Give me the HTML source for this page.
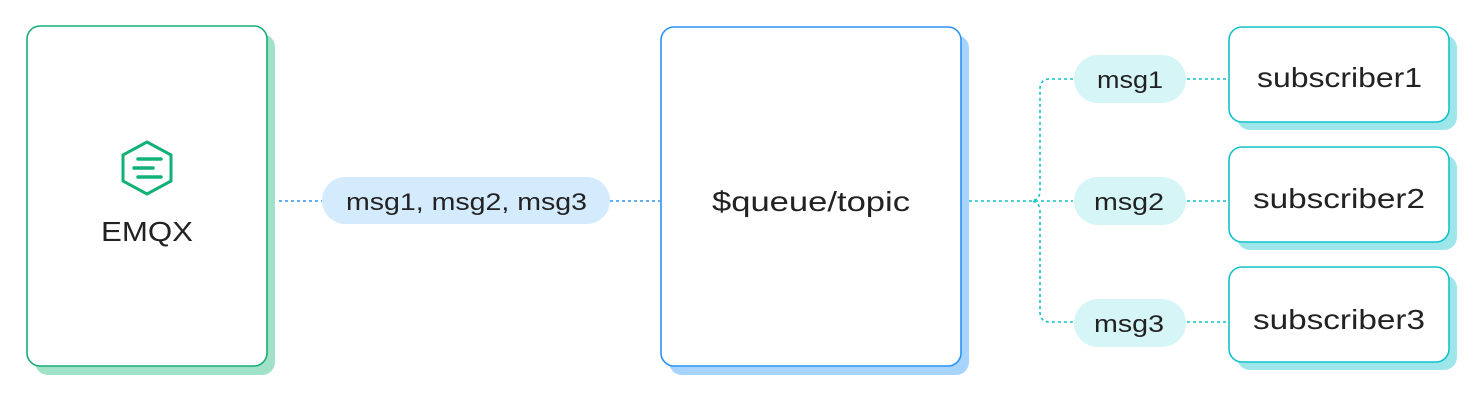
<!DOCTYPE html>
<html><head><meta charset="utf-8"><style>
html,body{margin:0;padding:0;background:#fff;}
svg{display:block;}
text{font-family:"Liberation Sans",sans-serif;fill:#222;}
</style></head><body>
<svg width="1482" height="402" viewBox="0 0 1482 402" xmlns="http://www.w3.org/2000/svg">
<!-- EMQX box -->
<rect x="35" y="34" width="240" height="341" rx="13" fill="#a0e2c8"/>
<rect x="27" y="26" width="240" height="340" rx="13" fill="#fff" stroke="#17ad73" stroke-width="1.6"/>
<polygon points="147,142 171,155 171,181 147,194 123,181 123,155" fill="none" stroke="#12b277" stroke-width="3" stroke-linejoin="round"/>
<line x1="138" y1="159" x2="161" y2="159" stroke="#12b277" stroke-width="3.5" stroke-linecap="round"/>
<line x1="134" y1="168" x2="153" y2="168" stroke="#12b277" stroke-width="3.5" stroke-linecap="round"/>
<line x1="138" y1="177" x2="161" y2="177" stroke="#12b277" stroke-width="3.5" stroke-linecap="round"/>
<text x="101" y="241" font-size="28" textLength="92" lengthAdjust="spacingAndGlyphs">EMQX</text>

<!-- left connector -->
<line x1="279" y1="201" x2="322" y2="201" stroke="#2a94f4" stroke-width="1.6" stroke-dasharray="3,3"/>
<line x1="610" y1="201" x2="660" y2="201" stroke="#2a94f4" stroke-width="1.6" stroke-dasharray="3,3"/>
<rect x="322" y="177" width="288" height="47" rx="23.5" fill="#d4eafd"/>
<text x="346" y="210" font-size="24" textLength="241" lengthAdjust="spacingAndGlyphs">msg1, msg2, msg3</text>

<!-- queue box -->
<rect x="669" y="35" width="300" height="340" rx="13" fill="#a6d4fc"/>
<rect x="661" y="27" width="300" height="339" rx="13" fill="#fff" stroke="#2a94f4" stroke-width="1.6"/>
<text x="712" y="211" font-size="28" textLength="198" lengthAdjust="spacingAndGlyphs">$queue/topic</text>

<!-- right connectors -->
<g stroke="#13c2c9" stroke-width="1.6" stroke-dasharray="3,3" fill="none">
<line x1="969" y1="201" x2="1073" y2="201"/>
<path d="M1073,79 H1050 Q1040,79 1040,89 V191 Q1040,199 1032,201 Q1040,203 1040,211 V312 Q1040,322 1050,322 H1073"/>
<line x1="1187" y1="79" x2="1228" y2="79"/>
<line x1="1187" y1="201" x2="1228" y2="201"/>
<line x1="1187" y1="322" x2="1228" y2="322"/>
</g>
<rect x="1074" y="55" width="112" height="48" rx="24" fill="#d6f5f7"/>
<rect x="1074" y="177" width="112" height="48" rx="24" fill="#d6f5f7"/>
<rect x="1074" y="299" width="112" height="48" rx="24" fill="#d6f5f7"/>
<text x="1097" y="88" font-size="24" textLength="66" lengthAdjust="spacingAndGlyphs">msg1</text>
<text x="1094" y="210" font-size="24" textLength="70" lengthAdjust="spacingAndGlyphs">msg2</text>
<text x="1094" y="332" font-size="24" textLength="70" lengthAdjust="spacingAndGlyphs">msg3</text>

<!-- subscribers -->
<g>
<rect x="1237" y="35" width="220" height="95" rx="13" fill="#9ee6ea"/>
<rect x="1229" y="27" width="220" height="95" rx="13" fill="#fff" stroke="#13c2c9" stroke-width="1.6"/>
<text x="1257" y="87" font-size="28" textLength="165" lengthAdjust="spacingAndGlyphs">subscriber1</text>
<rect x="1237" y="155" width="220" height="95" rx="13" fill="#9ee6ea"/>
<rect x="1229" y="147" width="220" height="95" rx="13" fill="#fff" stroke="#13c2c9" stroke-width="1.6"/>
<text x="1253" y="208" font-size="28" textLength="172" lengthAdjust="spacingAndGlyphs">subscriber2</text>
<rect x="1237" y="275" width="220" height="95" rx="13" fill="#9ee6ea"/>
<rect x="1229" y="267" width="220" height="95" rx="13" fill="#fff" stroke="#13c2c9" stroke-width="1.6"/>
<text x="1253" y="329" font-size="28" textLength="172" lengthAdjust="spacingAndGlyphs">subscriber3</text>
</g>
</svg>
</body></html>
